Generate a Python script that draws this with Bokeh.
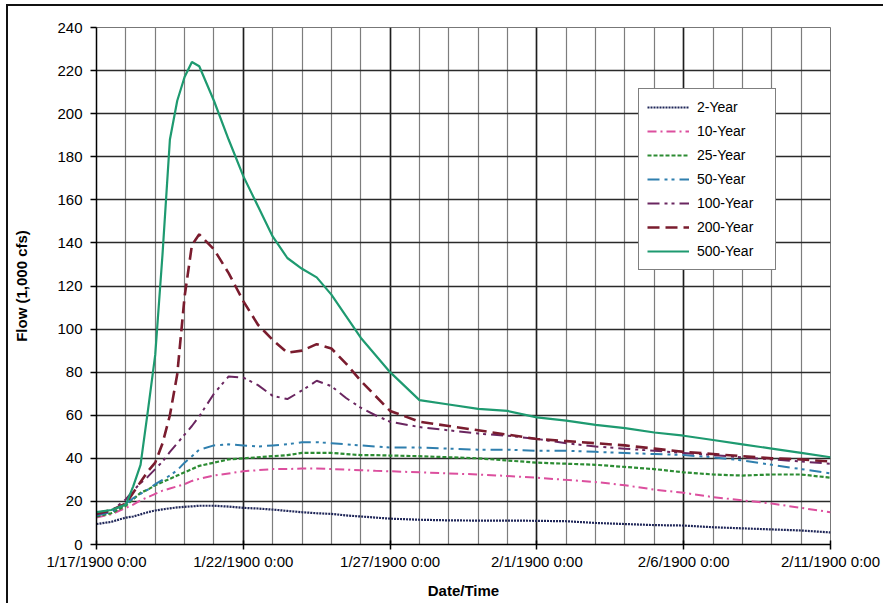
from bokeh.plotting import figure
from bokeh.models import FixedTicker
from bokeh.embed import file_html
from bokeh.resources import INLINE

# time in days after 1/17/1900 0:00
days = [0, 0.5, 1, 1.25, 1.5, 1.75, 2, 2.25, 2.5, 2.75, 3, 3.25, 3.5, 4, 4.5, 5, 5.5, 6, 6.5, 7,
        7.5, 8, 8.5, 9, 9.5, 10, 11, 12, 13, 14, 15, 16, 17, 18, 19, 20, 21, 22, 23, 24, 25]

flow_2yr = [9.5, 10.5, 12.5, 13, 14, 15, 15.8, 16.3, 16.8, 17.2, 17.5, 17.7, 18, 18, 17.6, 17, 16.7, 16.2, 15.6, 15,
            14.5, 14.2, 13.5, 13, 12.5, 12, 11.5, 11.2, 11.1, 11.1, 11, 10.8, 10, 9.5, 9, 8.8, 8, 7.5, 7, 6.5, 5.6]
flow_10yr = [12.5, 14, 17, 18.5, 20.5, 22, 23.5, 25, 26, 27, 28, 29.5, 30.5, 32, 33, 34, 34.5, 35, 35, 35.3,
             35.3, 35, 34.8, 34.5, 34.2, 34, 33.5, 33, 32.5, 31.8, 31, 30, 29, 27.5, 25.5, 24, 22, 20.5, 19, 17, 15]
flow_25yr = [13, 14.5, 18, 21, 24, 25.5, 27.5, 29, 30.5, 32, 33.5, 35, 36.5, 38, 39.5, 40, 40.5, 41, 41.5, 42.5,
             42.5, 42.5, 42, 41.5, 41.5, 41.3, 41, 40.5, 40, 39, 38, 37.5, 37, 36, 35, 33.5, 32.5, 32, 32.5, 32.5, 31]
flow_50yr = [13.5, 15, 19, 21.5, 23.5, 25.5, 28, 30, 32, 34.5, 38, 41, 44, 46, 46.5, 46, 45.5, 46, 46.5, 47.5,
             47.5, 47, 46.5, 46, 45.5, 45, 45, 44.5, 44, 44, 43.5, 43.5, 43, 42.5, 42, 41.5, 40.5, 39, 37, 35, 33]
flow_100yr = [14, 15.5, 21, 25, 28.5, 31.5, 35, 38.5, 43, 47, 51, 55, 59.5, 70, 78, 77.5, 74, 69, 67.5, 71.5,
              76, 73.5, 68, 63.5, 60, 57, 54.5, 53, 51.5, 50.5, 49, 47, 45.5, 44.5, 43.5, 42.5, 41.5, 40.5, 39.5, 38.5, 37.5]
flow_200yr = [14.5, 16, 19, 24, 29, 34, 38, 47, 60, 79, 115, 139, 144, 137, 126, 113, 102, 95, 89, 90,
              93, 91, 84, 76, 69, 62, 57, 55, 53, 51, 49, 48, 47, 46, 44.5, 43, 42, 41, 40, 39.5, 38.5]
flow_500yr = [15, 16, 18.5, 27, 37, 62, 88, 135, 188, 206, 217, 224, 222, 206, 188, 171, 157, 143, 133, 128,
              124, 116, 106, 96, 88, 80, 67, 65, 63, 62, 59, 57.5, 55.5, 54, 52, 50.5, 48.5, 46.5, 44.5, 42.5, 40.5]

series_names = ["2-Year", "10-Year", "25-Year", "50-Year", "100-Year", "200-Year", "500-Year"]
series_values = [flow_2yr, flow_10yr, flow_25yr, flow_50yr, flow_100yr, flow_200yr, flow_500yr]

tick_days = [0, 5, 10, 15, 20, 25]
tick_labels = ["1/17/1900 0:00", "1/22/1900 0:00", "1/27/1900 0:00",
               "2/1/1900 0:00", "2/6/1900 0:00", "2/11/1900 0:00"]
minor_days = list(range(0, 26))
flow_ticks = list(range(0, 241, 20))

styles = [
    dict(color="#1f2658", width=2.2, dash="2 1"),
    dict(color="#dc4f9e", width=2.0, dash="9 4 2 4"),
    dict(color="#2c8c33", width=2.2, dash="4 2"),
    dict(color="#2f7fae", width=2.0, dash="12 5 3 4 3 5"),
    dict(color="#6a2660", width=2.0, dash="12 5 3 4 3 5"),
    dict(color="#7a1c2e", width=2.6, dash="12 6"),
    dict(color="#1e9a70", width=2.2, dash="solid"),
]

FONT = "Liberation Sans"

p = figure(width=877, height=599, output_backend="svg", toolbar_location=None,
           x_range=(0, 25), y_range=(0, 240),
           min_border_left=88, min_border_right=55, min_border_top=21, min_border_bottom=61,
           background_fill_color="white", border_fill_color="white")
p.styles = {"border-top": "2px solid #111111", "border-left": "2px solid #111111",
            "margin-left": "6px", "margin-top": "4px"}
p.outline_line_color = "#777777"
p.outline_line_width = 1

for name, vals, st in zip(series_names, series_values, styles):
    p.line(days, vals, line_color=st["color"], line_width=st["width"], line_dash=st["dash"],
           legend_label=name)

# axes
p.xaxis.ticker = FixedTicker(ticks=tick_days, minor_ticks=minor_days)
p.xaxis.major_label_overrides = {d: lab for d, lab in zip(tick_days, tick_labels)}
p.yaxis.ticker = FixedTicker(ticks=flow_ticks)

for ax in (p.xaxis[0], p.yaxis[0]):
    ax.axis_line_color = "black"
    ax.axis_line_width = 1.5
    ax.major_tick_line_color = "black"
    ax.major_tick_line_width = 1.5
    ax.minor_tick_line_color = None
    ax.major_label_text_font = FONT
    ax.major_label_text_font_size = "15px"
    ax.major_label_text_color = "black"
    ax.axis_label_text_font = FONT
    ax.axis_label_text_font_size = "15px"
    ax.axis_label_text_font_style = "bold"
    ax.axis_label_text_color = "black"

p.xaxis.axis_label = "Date/Time"
p.yaxis.axis_label = "Flow (1,000 cfs)"
p.xaxis.major_tick_in = 4
p.xaxis.major_tick_out = 5
p.xaxis.major_label_standoff = 3
p.xaxis.axis_label_standoff = 9
p.yaxis.major_tick_in = 0
p.yaxis.major_tick_out = 6
p.yaxis.major_label_standoff = 8
p.yaxis.axis_label_standoff = 24

# grids
p.ygrid.grid_line_color = "#2a2a2a"
p.ygrid.grid_line_width = 1.7
p.xgrid.grid_line_color = "#1e1e1e"
p.xgrid.grid_line_width = 1.6
p.xgrid.minor_grid_line_color = "#7d7d7d"
p.xgrid.minor_grid_line_width = 1.2

# legend
lg = p.legend[0]
lg.location = (542, 274)
lg.border_line_color = "black"
lg.border_line_width = 1
lg.background_fill_color = "white"
lg.background_fill_alpha = 1
lg.label_text_font = FONT
lg.label_text_font_size = "14px"
lg.label_text_color = "black"
lg.padding = 8
lg.spacing = 4
lg.glyph_height = 20
lg.label_height = 20
lg.glyph_width = 42
lg.label_standoff = 8
lg.label_width = 70
lg.margin = 0

open("out.html", "w").write(file_html(p, INLINE))
